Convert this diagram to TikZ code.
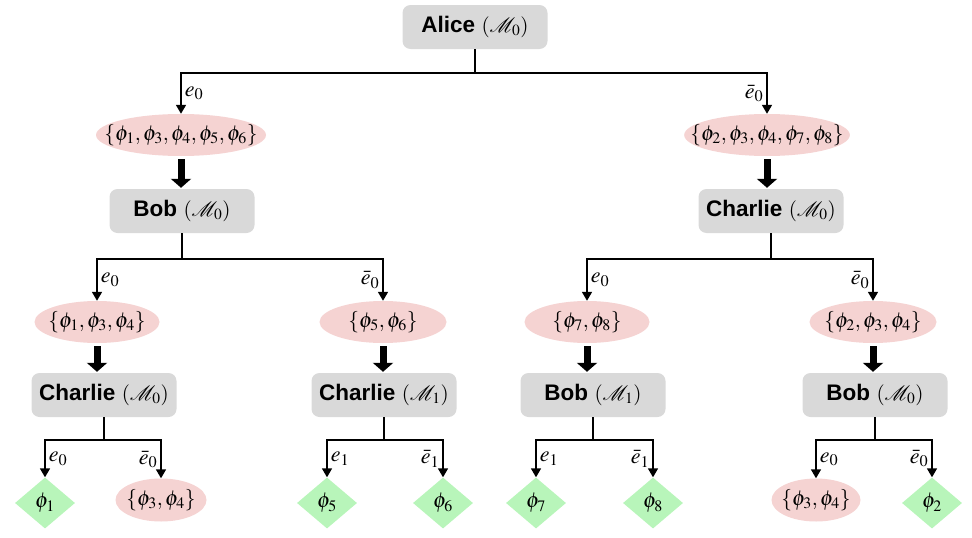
\documentclass[tikz,border=0pt]{standalone}
\usepackage{mathptmx}
\usepackage{mathrsfs}
\usepackage{fontspec}
\setsansfont{Liberation Sans}
\usetikzlibrary{arrows.meta,positioning,shapes.geometric}
\definecolor{boxgray}{HTML}{D9D9D9}
\definecolor{setpink}{HTML}{F5D3D2}
\definecolor{leafgreen}{HTML}{B8F5BA}
\newcommand{\agentname}[2]{{\fontsize{22.5}{26}\selectfont\textsf{\bfseries #1}} $(\mathscr{M}_{#2})$}
\tikzset{agent/.style={fill=boxgray,rounded corners=8pt,minimum width=145pt,minimum height=44pt,inner sep=2pt,font=\fontsize{21}{25}\selectfont}, phiset/.style={ellipse,fill=setpink,minimum height=42pt,inner xsep=-18pt,inner ysep=0pt,font=\fontsize{21.5}{25}\selectfont}, leaf/.style={diamond,fill=leafgreen,minimum width=60pt,minimum height=51pt,inner sep=0pt,font=\fontsize{21.5}{25}\selectfont}, branch/.style={-{Triangle[length=9pt,width=10pt]},line width=1.6pt}, pass/.style={-{Triangle[length=9pt,width=20pt]},line width=7pt,shorten <=3pt,shorten >=1pt}, lbl/.style={font=\fontsize{22}{26}\selectfont,inner sep=3pt}}

\begin{document}
\begin{tikzpicture}[x=1pt,y=-1pt]
\useasboundingbox (0,0) rectangle (972,538);
\node[agent] (alice) at (475,27) {\agentname{Alice}{0}};
\node[phiset,minimum width=170pt] (lset) at (181,135) {$\{\phi_1,\phi_3,\phi_4,\phi_5,\phi_6\}$};
\node[phiset,minimum width=160pt] (rset) at (767,135) {$\{\phi_2,\phi_3,\phi_4,\phi_7,\phi_8\}$};
\node[agent] (bob) at (182,211) {\agentname{Bob}{0}};
\node[agent] (charlie) at (771,211) {\agentname{Charlie}{0}};
\node[phiset,minimum width=125pt] (s134) at (97,322) {$\{\phi_1,\phi_3,\phi_4\}$};
\node[phiset,minimum width=127pt] (s56) at (383,322) {$\{\phi_5,\phi_6\}$};
\node[phiset,minimum width=125pt] (s78) at (587,322) {$\{\phi_7,\phi_8\}$};
\node[phiset,minimum width=127pt] (s234) at (873,322) {$\{\phi_2,\phi_3,\phi_4\}$};
\node[agent] (charA) at (104,395) {\agentname{Charlie}{0}};
\node[agent] (charB) at (384,395) {\agentname{Charlie}{1}};
\node[agent] (bobA) at (593,395) {\agentname{Bob}{1}};
\node[agent] (bobB) at (875,395) {\agentname{Bob}{0}};
\node[leaf] (p1) at (45,503) {$\phi_1$};
\node[phiset,minimum width=91pt,minimum height=43pt] (s34a) at (161,500) {$\{\phi_3,\phi_4\}$};
\node[leaf] (p5) at (327,503) {$\phi_5$};
\node[leaf] (p6) at (443,503) {$\phi_6$};
\node[leaf] (p7) at (536,503) {$\phi_7$};
\node[leaf] (p8) at (653,503) {$\phi_8$};
\node[phiset,minimum width=89pt,minimum height=43pt] (s34b) at (816,500) {$\{\phi_3,\phi_4\}$};
\node[leaf] (p2) at (932,503) {$\phi_2$};
% top split
\draw[branch] (alice.south) -- ++(0,24) -| node[lbl,pos=0.75,right]{$e_0$} (lset.north);
\draw[branch] (alice.south) -- ++(0,24) -| node[lbl,pos=0.75,left]{$\bar{e}_0$} (rset.north);
\draw[pass] (lset.south) -- (lset.south |- bob.north);
\draw[pass] (rset.south) -- (rset.south |- charlie.north);
% second split
\draw[branch] (bob.south) -- ++(0,26) -| node[lbl,pos=0.75,right]{$e_0$} (s134.north);
\draw[branch] (bob.south) -- ++(0,26) -| node[lbl,pos=0.75,left]{$\bar{e}_0$} (s56.north);
\draw[branch] (charlie.south) -- ++(0,26) -| node[lbl,pos=0.75,right]{$e_0$} (s78.north);
\draw[branch] (charlie.south) -- ++(0,26) -| node[lbl,pos=0.75,left]{$\bar{e}_0$} (s234.north);
\draw[pass] (s134.south) -- (s134.south |- charA.north);
\draw[pass] (s56.south) -- (s56.south |- charB.north);
\draw[pass] (s78.south) -- (s78.south |- bobA.north);
\draw[pass] (s234.south) -- (s234.south |- bobB.north);
% leaves
\draw[branch] (charA.south) -- ++(0,23) -| node[lbl,pos=0.75,right]{$e_0$} (p1.north);
\draw[branch] (charA.south) -- ++(0,23) -| node[lbl,pos=0.75,left]{$\bar{e}_0$} (s34a.north);
\draw[branch] (charB.south) -- ++(0,23) -| node[lbl,pos=0.75,right]{$e_1$} (p5.north);
\draw[branch] (charB.south) -- ++(0,23) -| node[lbl,pos=0.75,left]{$\bar{e}_1$} (p6.north);
\draw[branch] (bobA.south) -- ++(0,23) -| node[lbl,pos=0.75,right]{$e_1$} (p7.north);
\draw[branch] (bobA.south) -- ++(0,23) -| node[lbl,pos=0.75,left]{$\bar{e}_1$} (p8.north);
\draw[branch] (bobB.south) -- ++(0,23) -| node[lbl,pos=0.75,right]{$e_0$} (s34b.north);
\draw[branch] (bobB.south) -- ++(0,23) -| node[lbl,pos=0.75,left]{$\bar{e}_0$} (p2.north);
\end{tikzpicture}
\end{document}
